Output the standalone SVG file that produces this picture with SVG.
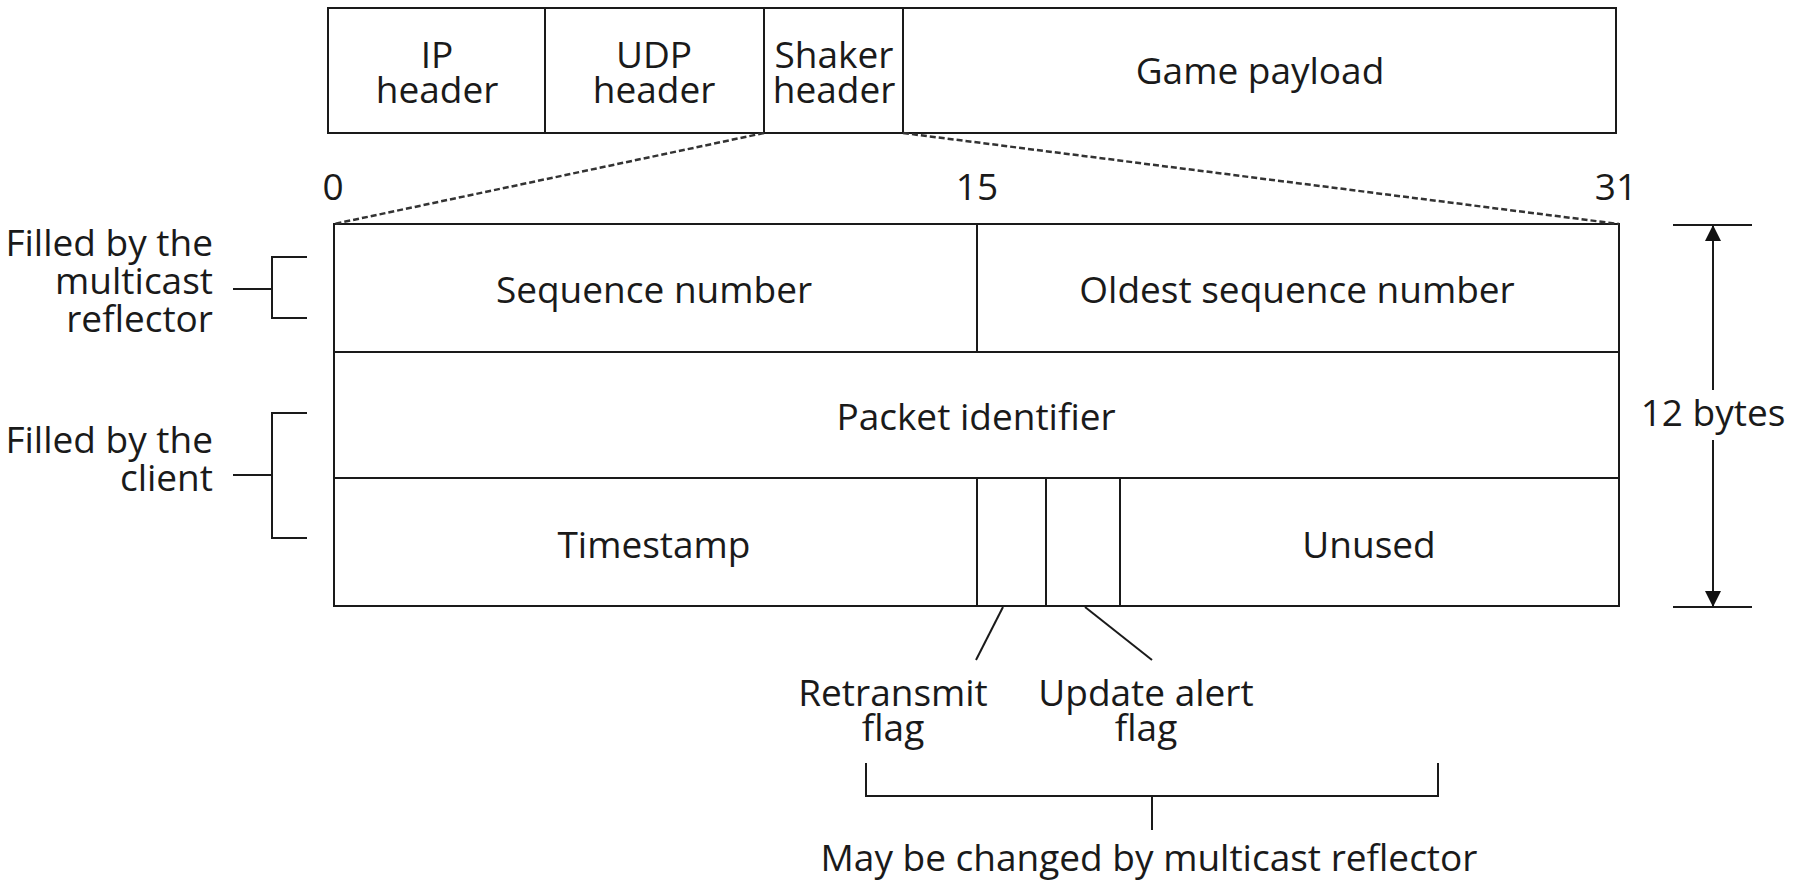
<svg xmlns="http://www.w3.org/2000/svg" width="1793" height="883" viewBox="0 0 1793 883">
  <style>
    .box { fill: #ffffff; stroke: #1a1a1a; stroke-width: 2; }
    .ln { fill: none; stroke: #1a1a1a; stroke-width: 2; }
    .dash { fill: none; stroke: #333333; stroke-width: 2.5; stroke-dasharray: 6 3; }
    text { font-family: "Open Sans", "Noto Sans", sans-serif; font-size: 37px; fill: #1a1a1a; }
    .c { text-anchor: middle; }
    .r { text-anchor: end; }
  </style>
  <defs>
    <marker id="arr" viewBox="0 0 16 22" refX="16" refY="8" markerWidth="16" markerHeight="22" markerUnits="userSpaceOnUse" orient="auto">
      <path d="M0,0 L22,8 L0,16 Z" fill="#111111" transform="scale(0.727,1)"/>
    </marker>
  </defs>
  <rect width="1793" height="883" fill="#ffffff"/>

  <!-- packet layout: top row -->
  <g id="ip-header">
    <rect class="box" x="328" y="8" width="217" height="125"/>
    <text class="c" x="437" y="68">IP<tspan x="437" dy="35">header</tspan></text>
  </g>
  <g id="udp-header">
    <rect class="box" x="545" y="8" width="219" height="125"/>
    <text class="c" x="654" y="68">UDP<tspan x="654" dy="35">header</tspan></text>
  </g>
  <g id="shaker-header">
    <rect class="box" x="764" y="8" width="139" height="125"/>
    <text class="c" x="834" y="68">Shaker<tspan x="834" dy="35">header</tspan></text>
  </g>
  <g id="game-payload">
    <rect class="box" x="903" y="8" width="713" height="125"/>
    <text class="c" x="1260" y="84">Game payload</text>
  </g>

  <!-- bit positions -->
  <g id="bit-labels">
    <text class="c" x="333" y="200">0</text>
    <text class="c" x="977" y="200">15</text>
    <text class="c" x="1616" y="200">31</text>
  </g>

  <!-- Shaker header detail -->
  <g id="shaker-detail">
    <rect class="box" x="334" y="224" width="1285" height="382"/>
    <line class="ln" x1="334" y1="352" x2="1619" y2="352"/>
    <line class="ln" x1="334" y1="478" x2="1619" y2="478"/>
    <line class="ln" x1="977" y1="224" x2="977" y2="352"/>
    <line class="ln" x1="977" y1="478" x2="977" y2="606"/>
    <line class="ln" x1="1046" y1="478" x2="1046" y2="606"/>
    <line class="ln" x1="1120" y1="478" x2="1120" y2="606"/>
  </g>
  <g id="sequence-number">
    <text class="c" x="654" y="303">Sequence number</text>
  </g>
  <g id="oldest-sequence-number">
    <text class="c" x="1297" y="303">Oldest sequence number</text>
  </g>
  <g id="packet-identifier">
    <text class="c" x="976" y="430">Packet identifier</text>
  </g>
  <g id="timestamp">
    <text class="c" x="654" y="558">Timestamp</text>
  </g>
  <g id="unused">
    <text class="c" x="1369" y="558">Unused</text>
  </g>

  <!-- side annotations -->
  <g id="filled-by-reflector">
    <text class="r" x="213" y="256">Filled by the<tspan x="213" dy="38">multicast</tspan><tspan x="213" dy="38">reflector</tspan></text>
  </g>
  <g id="filled-by-client">
    <text class="r" x="213" y="453">Filled by the<tspan x="213" dy="38">client</tspan></text>
  </g>
  <g id="byte-size">
    <text class="c" x="1713" y="426">12 bytes</text>
  </g>
  <g id="retransmit-flag">
    <text class="c" x="893" y="706">Retransmit<tspan x="893" dy="35">flag</tspan></text>
  </g>
  <g id="update-alert-flag">
    <text class="c" x="1146" y="706">Update alert<tspan x="1146" dy="35">flag</tspan></text>
  </g>
  <g id="reflector-note">
    <text class="c" x="1149" y="871">May be changed by multicast reflector</text>
  </g>

  <!-- connectors -->
  <g id="connectors">
    <line class="dash" x1="764" y1="133" x2="334" y2="224"/>
    <line class="dash" x1="903" y1="133" x2="1619" y2="224"/>

    <path class="ln" d="M233,289 H272 M307,257 H272 V318 H307"/>
    <path class="ln" d="M233,475 H272 M307,413 H272 V538 H307"/>

    <line class="ln" x1="1673" y1="225" x2="1752" y2="225"/>
    <line class="ln" x1="1673" y1="607" x2="1752" y2="607"/>
    <line class="ln" x1="1713" y1="390" x2="1713" y2="225" marker-end="url(#arr)"/>
    <line class="ln" x1="1713" y1="440" x2="1713" y2="607" marker-end="url(#arr)"/>

    <line class="ln" x1="1003" y1="607" x2="976" y2="660"/>
    <line class="ln" x1="1085" y1="607" x2="1152" y2="660"/>

    <path class="ln" d="M866,763 V796 H1438 V763 M1152,796 V830"/>
  </g>
</svg>
